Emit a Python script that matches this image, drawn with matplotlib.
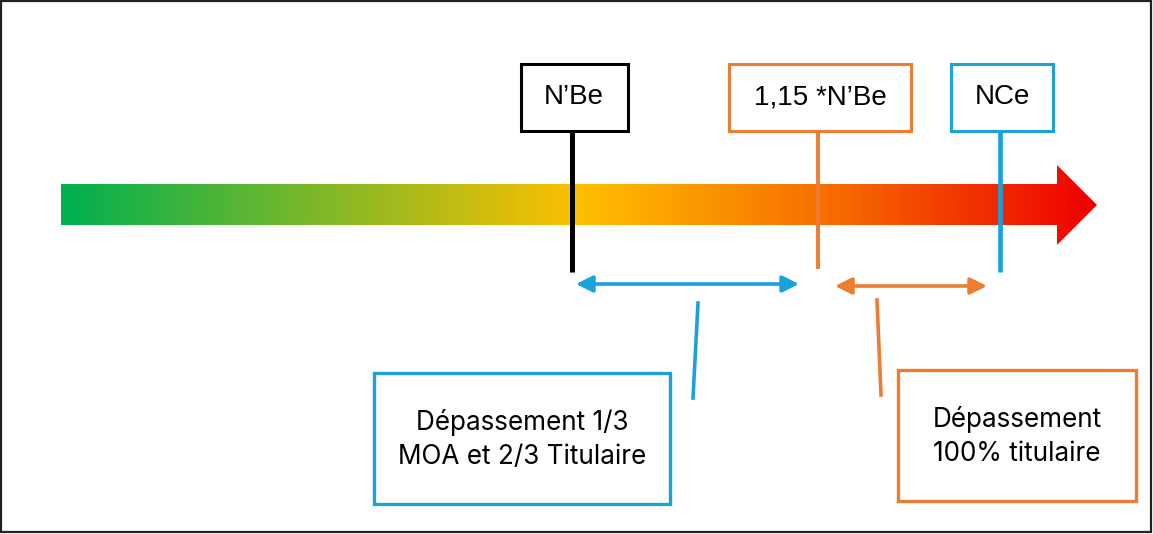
import numpy as np
import matplotlib.pyplot as plt
from matplotlib.patches import Polygon, Rectangle, FancyArrowPatch
from matplotlib.colors import LinearSegmentedColormap

# thresholds along the scale (pixel units of the drawing)
levels = ["N\u2019Be", "1,15 *N\u2019Be", "NCe"]
level_x = [572, 818, 1000]
level_box_w = [107, 182, 102]
level_colors = ["black", "#ED7D31", "#1BA1DB"]

# ranges between thresholds and their captions
ranges = [(576, 799), (835, 987)]
range_y = [284, 286]
range_colors = ["#1BA1DB", "#ED7D31"]
captions = ["Dépassement 1/3\nMOA et 2/3 Titulaire", "Dépassement\n100% titulaire"]
caption_boxes = [(374, 373, 296, 131), (898, 370, 238, 131)]
caption_links = [((698, 303), (693, 398)), ((877, 300), (881, 395))]

# gradient stops of the main arrow
grad_pos = [0.0, 0.5, 0.75, 1.0]
grad_col = ["#00B050", "#FFC000", "#F66A00", "#EE0000"]

W, H = 1153, 534
fig = plt.figure(figsize=(W / 100, H / 100), dpi=100)
ax = fig.add_axes([0, 0, 1, 1])
ax.set_xlim(0, W)
ax.set_ylim(H, 0)
ax.axis("off")

# outer frame
ax.add_patch(Rectangle((1, 1), 1150, 531, fill=False, ec="#222222", lw=1.6))

# gradient arrow
x0, x_head, x_tip = 61, 1057, 1097
y_top, y_bot = 184, 225
head_top, head_bot = 165, 245
arrow = Polygon([(x0, y_top), (x_head, y_top), (x_head, head_top),
                 (x_tip, (head_top + head_bot) / 2), (x_head, head_bot),
                 (x_head, y_bot), (x0, y_bot)], closed=True, fc="none", ec="none")
ax.add_patch(arrow)
cmap = LinearSegmentedColormap.from_list("g", list(zip(grad_pos, grad_col)))
img = ax.imshow(np.linspace(0, 1, 512)[None, :], cmap=cmap, aspect="auto",
                extent=(x0, x_tip, head_bot, head_top), zorder=1)
img.set_clip_path(arrow)

# threshold markers
box_top, box_bot = 64, 131
stem_bot = [272, 269, 272]
stem_lw = [3.6, 2.8, 3.4]
for lab, x, w, c, sb, slw in zip(levels, level_x, level_box_w, level_colors, stem_bot, stem_lw):
    ax.plot([x, x], [box_bot, sb], color=c, lw=slw, solid_capstyle="butt", zorder=3)
    ax.add_patch(Rectangle((x - w / 2 + 2, box_top), w, box_bot - box_top,
                           fc="white", ec=c, lw=2.2, zorder=4))
    ax.text(x + 2, (box_top + box_bot) / 2, lab, ha="center", va="center",
            fontsize=20, family="Liberation Sans", zorder=5)

# range arrows
for (a, b), y, c in zip(ranges, range_y, range_colors):
    ax.add_patch(FancyArrowPatch((a, y), (b, y), arrowstyle="<|-|>,head_length=1.0,head_width=0.5",
                                 mutation_scale=10, lw=2.6, color=c, shrinkA=0, shrinkB=0))

# captions
for txt, (bx, by, bw, bh), (p, q), c in zip(captions, caption_boxes, caption_links, range_colors):
    ax.plot([p[0], q[0]], [p[1], q[1]], color=c, lw=2.6)
    ax.add_patch(Rectangle((bx, by), bw, bh, fc="white", ec=c, lw=2.4))
    ax.text(bx + bw / 2, by + bh / 2 + 1, txt, ha="center", va="center",
            fontsize=18.8, family="Inter", linespacing=1.42)

fig.savefig("out.png", dpi=100)
